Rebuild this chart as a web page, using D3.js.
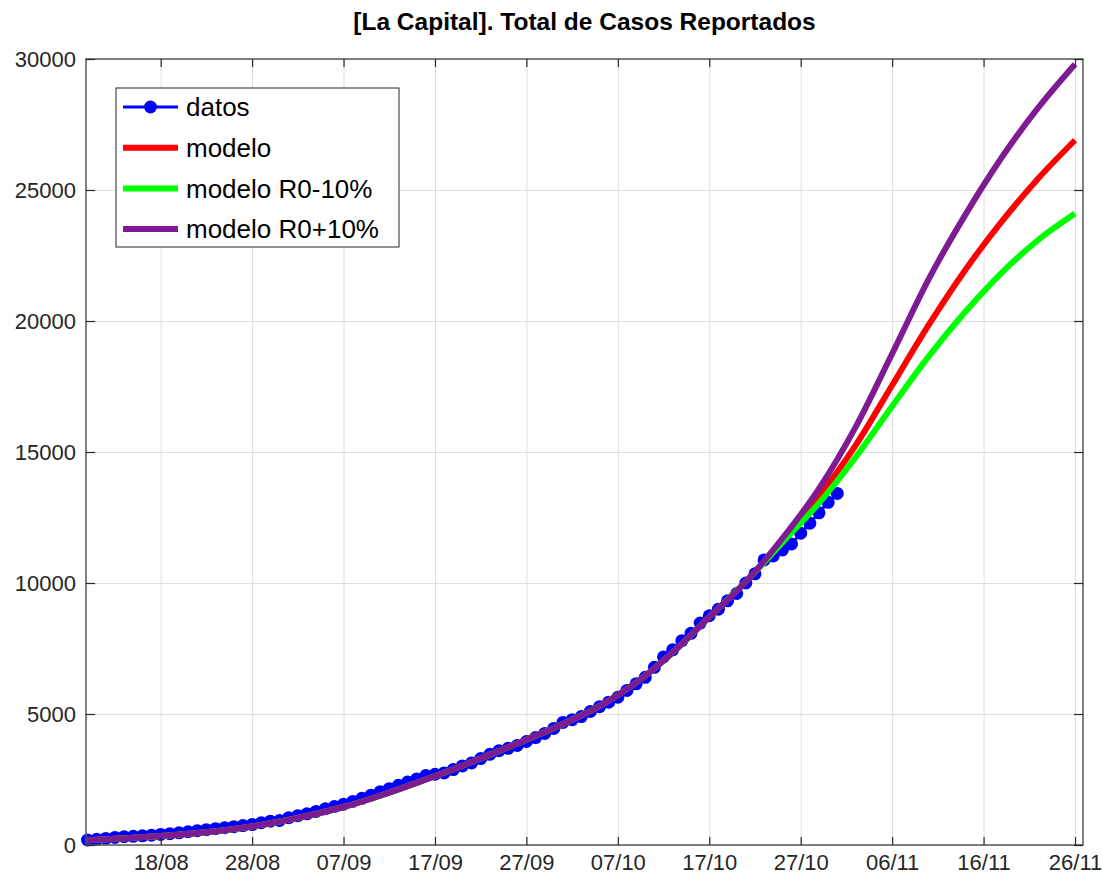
<!DOCTYPE html>
<html>
<head>
<meta charset="utf-8">
<script src="https://cdn.jsdelivr.net/npm/d3@7"></script>
<style>
  body { margin: 0; background: #fff; }
  text { font-family: "Liberation Sans", Arial, sans-serif; }
</style>
</head>
<body>
<div id="chart"></div>
<script>
// total de casos reportados, un valor por dia desde el 10/08
const fechaInicio = "2020-08-10";
const casos = [
    190, 215, 250, 290, 315, 330, 350, 375, 405, 430,
    465, 505, 545, 585, 625, 660, 700, 740, 780, 850,
    910, 935, 1040, 1120, 1190, 1280, 1380, 1470, 1560, 1660,
    1780, 1900, 2030, 2150, 2280, 2400, 2520, 2650, 2700, 2750,
    2880, 3020, 3130, 3300, 3460, 3600, 3690, 3800, 3950, 4100,
    4260, 4450, 4680, 4780, 4900, 5100, 5280, 5450, 5640, 5900,
    6150, 6400, 6780, 7180, 7450, 7800, 8080, 8470, 8750, 9000,
    9320, 9600, 10000, 10350, 10880, 11030, 11260, 11490, 11900, 12280,
    12680, 13080, 13420
];

// curvas del modelo (dias desde el 10/08)
const diasModelo = [0, 4, 8, 12, 16, 20, 24, 28, 32, 36, 40, 44, 48, 52, 56, 60, 64, 68, 72,
    76, 80, 84, 88, 92, 96, 100, 104, 108];
const modelo = [180, 255, 340, 455, 610, 830, 1110, 1450, 1880, 2370, 2890, 3450, 4020, 4620, 5300, 6200, 7350, 8700, 10050,
    11600, 13300, 15250, 17550, 19850, 21950, 23800, 25450, 26900];
const modeloMenos = [180, 255, 340, 455, 610, 830, 1110, 1450, 1880, 2370, 2890, 3450, 4020, 4620, 5300, 6200, 7350, 8700, 10050,
    11550, 13050, 14800, 16750, 18650, 20350, 21850, 23100, 24100];
const modeloMas = [180, 255, 340, 455, 610, 830, 1110, 1450, 1880, 2370, 2890, 3450, 4020, 4620, 5300, 6200, 7350, 8700, 10050,
    11700, 13600, 15950, 18750, 21600, 24050, 26250, 28150, 29800];

const xTickLabels = ["18/08", "28/08", "07/09", "17/09", "27/09", "07/10", "17/10", "27/10", "06/11", "16/11", "26/11"];
const yTicks = [0, 5000, 10000, 15000, 20000, 25000, 30000];

const series = [
    { nombre: "modelo", valores: modelo, color: "#ff0000" },
    { nombre: "modelo R0-10%", valores: modeloMenos, color: "#00ff00" },
    { nombre: "modelo R0+10%", valores: modeloMas, color: "#7e1b92" }
];

const width = 1102, height = 882;
const mLeft = 86, mRight = 1083, mTop = 59, mBottom = 845;

const parseDia = d3.utcParse("%Y-%m-%d");
const parseTick = d3.utcParse("%d/%m/%Y");
const inicio = parseDia(fechaInicio);
const fin = parseTick("26/11/2020");

const x = d3.scaleUtc()
    .domain([d3.utcHour.offset(inicio, -4), d3.utcHour.offset(fin, 21)])
    .range([mLeft, mRight]);

const y = d3.scaleLinear()
    .domain([0, 30000])
    .range([mBottom, mTop]);

const xTickDates = xTickLabels.map(s => parseTick(s + "/2020"));
const fmt = d3.utcFormat("%d/%m");

const svg = d3.select("#chart").append("svg")
    .attr("width", width)
    .attr("height", height);

// grid
const grid = svg.append("g");
grid.append("g")
    .attr("transform", `translate(0,${mBottom})`)
    .call(d3.axisBottom(x).tickValues(xTickDates).tickSize(-(mBottom - mTop)).tickFormat(""));
grid.append("g")
    .attr("transform", `translate(${mLeft},0)`)
    .call(d3.axisLeft(y).tickValues(yTicks).tickSize(-(mRight - mLeft)).tickFormat(""));
grid.selectAll(".domain").remove();
grid.selectAll("line").attr("stroke", "#dedede").attr("stroke-width", 1);

// datos
const puntos = casos.map((v, i) => ({ fecha: d3.utcDay.offset(inicio, i), valor: v }));

const linea = d3.line()
    .x(d => x(d.fecha))
    .y(d => y(d.valor));

svg.append("path")
    .datum(puntos)
    .attr("fill", "none")
    .attr("stroke", "#0000ff")
    .attr("stroke-width", 3)
    .attr("d", linea);

svg.append("g")
    .selectAll("circle")
    .data(puntos)
    .enter().append("circle")
    .attr("cx", d => x(d.fecha))
    .attr("cy", d => y(d.valor))
    .attr("r", 6.5)
    .attr("fill", "#0000ff");

// modelos
const curva = d3.line()
    .curve(d3.curveMonotoneX)
    .x(d => x(d.fecha))
    .y(d => y(d.valor));

series.forEach(function (s) {
    const pts = diasModelo.map((dia, i) => ({ fecha: d3.utcDay.offset(inicio, dia), valor: s.valores[i] }));
    svg.append("path")
        .datum(pts)
        .attr("fill", "none")
        .attr("stroke", s.color)
        .attr("stroke-width", 6)
        .attr("d", curva);
});

// caja y ticks
const axisColor = "#262626";
svg.append("rect")
    .attr("x", mLeft).attr("y", mTop)
    .attr("width", mRight - mLeft).attr("height", mBottom - mTop)
    .attr("fill", "none")
    .attr("stroke", "#5a5a5a")
    .attr("stroke-width", 1.5);

const xAxis = svg.append("g")
    .attr("transform", `translate(0,${mBottom})`)
    .call(d3.axisBottom(x).tickValues(xTickDates).tickFormat(fmt).tickSizeInner(-8).tickSizeOuter(0).tickPadding(9));
const xTop = svg.append("g")
    .attr("transform", `translate(0,${mTop})`)
    .call(d3.axisTop(x).tickValues(xTickDates).tickFormat("").tickSizeInner(-8).tickSizeOuter(0));
const yAxis = svg.append("g")
    .attr("transform", `translate(${mLeft},0)`)
    .call(d3.axisLeft(y).tickValues(yTicks).tickFormat(d3.format("d")).tickSizeInner(-9).tickSizeOuter(0).tickPadding(10));
const yRight = svg.append("g")
    .attr("transform", `translate(${mRight},0)`)
    .call(d3.axisRight(y).tickValues(yTicks).tickFormat("").tickSizeInner(-9).tickSizeOuter(0));

[xAxis, xTop, yAxis, yRight].forEach(a => {
    a.select(".domain").remove();
    a.selectAll("line").attr("stroke", axisColor).attr("stroke-width", 1.2);
    a.selectAll("text")
        .attr("fill", axisColor)
        .style("font-size", "22px")
        .style("font-family", '"Liberation Sans", Arial, sans-serif');
});

// titulo
svg.append("text")
    .attr("x", (mLeft + mRight) / 2)
    .attr("y", 30)
    .attr("text-anchor", "middle")
    .style("font-size", "24.5px")
    .style("font-weight", "bold")
    .attr("fill", "#000")
    .text("[La Capital]. Total de Casos Reportados");

// leyenda
const legend = svg.append("g").attr("transform", "translate(116,88)");
legend.append("rect")
    .attr("width", 283).attr("height", 159)
    .attr("fill", "#fff")
    .attr("stroke", axisColor)
    .attr("stroke-width", 1);

const items = [{ nombre: "datos", color: "#0000ff", marker: true }].concat(series);
const row = legend.selectAll(".item")
    .data(items)
    .enter().append("g")
    .attr("transform", (d, i) => `translate(0,${19 + i * 40.7})`);

row.append("line")
    .attr("x1", 7).attr("x2", 62)
    .attr("stroke", d => d.color)
    .attr("stroke-width", d => d.marker ? 3 : 6);
row.filter(d => d.marker).append("circle")
    .attr("cx", 34.5).attr("r", 6.5)
    .attr("fill", "#0000ff");
row.append("text")
    .attr("x", 70)
    .attr("dy", "0.35em")
    .style("font-size", "26px")
    .attr("fill", "#000")
    .text(d => d.nombre);
</script>
</body>
</html>
